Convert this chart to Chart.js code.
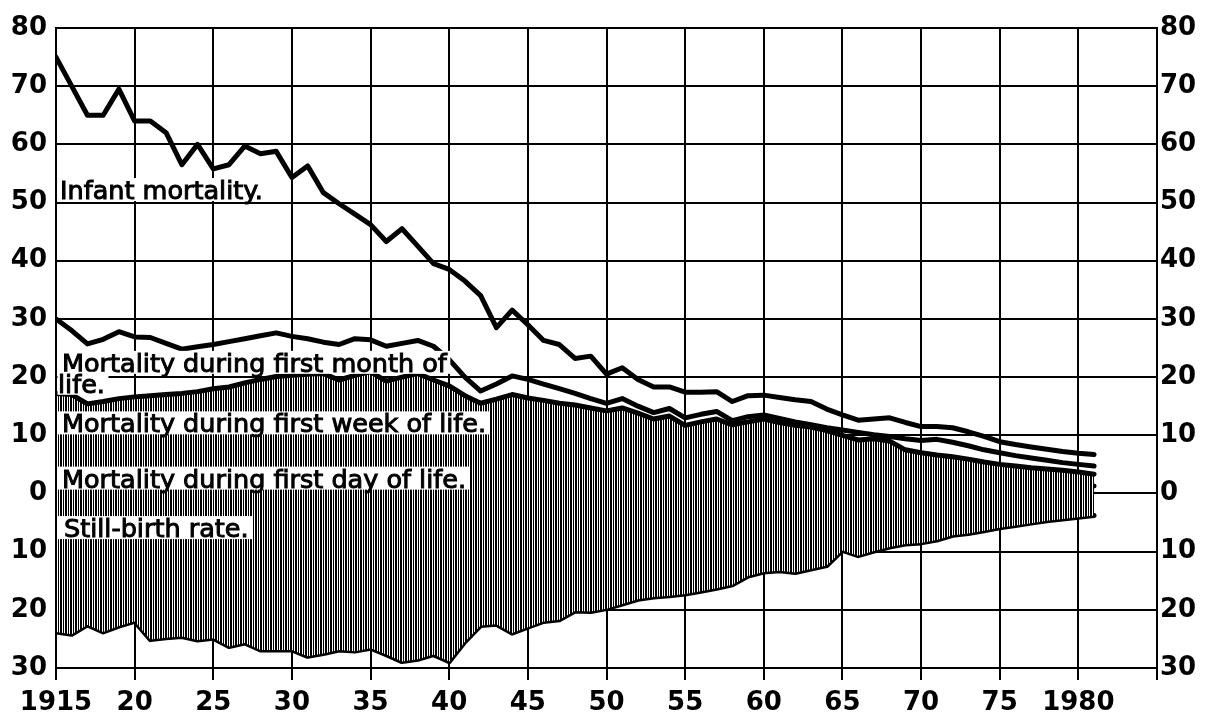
<!DOCTYPE html>
<html>
<head>
<meta charset="utf-8">
<script src="https://cdn.jsdelivr.net/npm/chart.js@4.4.0/dist/chart.umd.min.js"></script>
<style>
  html, body { margin: 0; padding: 0; background: #fff; }
  #wrap { width: 1205px; height: 719px; }
</style>
</head>
<body>
<div id="wrap"><canvas id="myChart" width="1205" height="719"></canvas></div>
<script>
// years 1915 - 1981, one point per year
var years = [
  1915, 1916, 1917, 1918, 1919, 1920, 1921, 1922, 1923, 1924,
  1925, 1926, 1927, 1928, 1929, 1930, 1931, 1932, 1933, 1934,
  1935, 1936, 1937, 1938, 1939, 1940, 1941, 1942, 1943, 1944,
  1945, 1946, 1947, 1948, 1949, 1950, 1951, 1952, 1953, 1954,
  1955, 1956, 1957, 1958, 1959, 1960, 1961, 1962, 1963, 1964,
  1965, 1966, 1967, 1968, 1969, 1970, 1971, 1972, 1973, 1974,
  1975, 1976, 1977, 1978, 1979, 1980, 1981
];

var infantMortality = [
  75, 70, 65, 65, 69.5, 64, 64, 62, 56.5, 60,
  55.8, 56.5, 59.7, 58.4, 58.8, 54.3, 56.3, 51.7, 49.8, 48,
  46.2, 43.3, 45.5, 42.5, 39.5, 38.5, 36.5, 34, 28.5, 31.5,
  29, 26.3, 25.6, 23.2, 23.6, 20.5, 21.6, 19.6, 18.3, 18.3,
  17.4, 17.4, 17.5, 15.8, 16.8, 16.9, 16.5, 16.1, 15.8, 14.5,
  13.5, 12.6, 12.8, 13.0, 12.2, 11.5, 11.5, 11.3, 10.6, 9.8,
  8.9, 8.4, 8.0, 7.6, 7.2, 6.9, 6.7
];

var firstMonth = [
  30, 28, 25.7, 26.5, 27.8, 26.9, 26.8, 25.8, 24.8, 25.2,
  25.6, 26.1, 26.6, 27.1, 27.6, 27.0, 26.6, 26.0, 25.6, 26.6,
  26.4, 25.3, 25.8, 26.3, 25.3, 23.0, 20.0, 17.6, 18.8, 20.2,
  19.6, 18.8, 18.0, 17.2, 16.3, 15.5, 16.3, 15.0, 13.9, 14.6,
  13.0, 13.6, 14.1, 12.5, 13.2, 13.5, 12.9, 12.3, 11.8, 11.3,
  10.9, 10.5, 10.1, 9.8, 9.4, 9.1, 9.3, 8.8, 8.2, 7.5,
  7.0, 6.5, 6.1, 5.7, 5.3, 5.0, 4.7
];

var firstWeek = [
  17.2, 17.0, 15.4, 15.8, 16.3, 16.6, 16.8, 17.0, 17.2, 17.5,
  18.0, 18.3, 19.0, 19.6, 20.1, 20.3, 20.5, 20.6, 19.5, 20.3,
  20.9, 19.3, 20.0, 20.6, 19.5, 18.5, 16.8, 15.5, 16.2, 17.0,
  16.4, 16.0, 15.5, 15.2, 14.7, 14.2, 14.7, 13.8, 12.8, 13.3,
  11.7, 12.3, 12.8, 11.8, 12.3, 12.8, 12.2, 11.7, 11.4, 10.8,
  10.0, 9.2, 9.4, 9.0, 7.5, 7.0, 6.6, 6.3, 5.9, 5.4,
  5.0, 4.7, 4.4, 4.2, 4.0, 3.7, 3.3
];

var firstDay = [
  7.5, 7.2, 6.2, 6.0, 6.2, 6.3, 6.3, 6.4, 6.5, 6.5,
  6.6, 6.8, 7.0, 7.2, 7.3, 7.4, 7.5, 7.5, 7.6, 7.7,
  7.5, 6.6, 7.0, 7.8, 7.2, 7.0, 6.8, 6.6, 6.6, 6.8,
  6.8, 6.6, 6.5, 6.4, 6.2, 6.1, 6.0, 5.9, 5.8, 5.7,
  5.6, 5.7, 5.3, 4.0, 5.2, 5.8, 5.3, 4.6, 3.9, 3.2,
  2.5, 3.3, 4.2, 3.8, 2.8, 2.6, 2.5, 2.4, 2.3, 2.1,
  2.0, 1.9, 1.7, 1.6, 1.5, 1.4, 1.3
];

// still-birth rate is plotted downwards from 0
var stillBirth = [
  -23.8, -24.2, -22.6, -23.8, -22.8, -22.0, -25.1, -24.8, -24.6, -25.2,
  -24.9, -26.3, -25.7, -26.9, -26.9, -26.9, -28.0, -27.5, -26.9, -27.1,
  -26.6, -27.7, -28.9, -28.5, -27.7, -28.9, -25.5, -22.7, -22.5, -24.0,
  -23.0, -22.0, -21.7, -20.2, -20.3, -19.8, -19.0, -18.2, -17.8, -17.6,
  -17.3, -16.8, -16.3, -15.7, -14.2, -13.5, -13.3, -13.6, -13.0, -12.4,
  -9.8, -10.7, -9.9, -9.2, -8.7, -8.5, -8.0, -7.2, -6.9, -6.4,
  -5.9, -5.5, -5.1, -4.7, -4.4, -4.1, -3.8
];

var xTickLabels = ['1915', '20', '25', '30', '35', '40', '45', '50', '55', '60', '65', '70', '75', '1980', ''];
var yTickLabels = ['30', '20', '10', '0', '10', '20', '30', '40', '50', '60', '70', '80'];

// text written inside the plot, anchored on the 1915 axis (value = text baseline)
var seriesLabels = [
  { text: 'Infant mortality.', value: 50.6, dx: 4 },
  { text: 'Mortality during first month of', value: 20.9, dx: 6 },
  { text: 'life.', value: 17.3, dx: 2 },
  { text: 'Mortality during first week of life.', value: 10.5, dx: 6 },
  { text: 'Mortality during first day of life.', value: 1.0, dx: 6 },
  { text: 'Still-birth rate.', value: -7.5, dx: 8 }
];

var FONT = 'DejaVu Sans';

function points(values) {
  return years.map(function(yr, i) { return { x: yr, y: values[i] }; });
}

var canvas = document.getElementById('myChart');
var ctx = canvas.getContext('2d');

// vertical hatching for the area between first week and still-birth
var tile = document.createElement('canvas');
tile.width = 5; tile.height = 8;
var tctx = tile.getContext('2d');
tctx.fillStyle = '#fff';
tctx.fillRect(0, 0, 5, 8);
tctx.fillStyle = '#000';
tctx.fillRect(0, 0, 2, 8);
tctx.fillRect(3, 0, 1, 8);
var hatch = ctx.createPattern(tile, 'repeat');

function lineSet(label, values, extra) {
  var ds = {
    label: label,
    data: points(values),
    borderColor: '#000',
    borderWidth: 5,
    pointRadius: 0,
    tension: 0,
    fill: false,
    borderCapStyle: 'round',
    borderJoinStyle: 'round'
  };
  for (var k in extra) ds[k] = extra[k];
  return ds;
}

var labelPlugin = {
  id: 'seriesLabels',
  afterDraw: function(chart) {
    var c = chart.ctx, xs = chart.scales.x, ys = chart.scales.y;
    c.save();
    c.font = '25.5px "' + FONT + '"';
    c.textBaseline = 'alphabetic';
    c.lineWidth = 1;
    c.strokeStyle = '#000';
    seriesLabels.forEach(function(l) {
      var x0 = xs.getPixelForValue(1915);
      var y = ys.getPixelForValue(l.value);
      var w = c.measureText(l.text).width;
      c.fillStyle = '#fff';
      c.fillRect(x0 + 1.5, y - 21, l.dx + w + 2, 23);
      c.fillStyle = '#000';
      c.fillText(l.text, x0 + l.dx, y);
      c.strokeText(l.text, x0 + l.dx, y);
    });
    c.restore();
  }
};

var tickFont = { family: FONT, size: 26, weight: 'bold' };

var chart = new Chart(ctx, {
  type: 'line',
  data: {
    datasets: [
      lineSet('Infant mortality', infantMortality),
      lineSet('Mortality during first month of life', firstMonth),
      lineSet('Mortality during first week of life', firstWeek, { fill: 4, backgroundColor: hatch }),
      lineSet('Mortality during first day of life', firstDay),
      lineSet('Still-birth rate', stillBirth)
    ]
  },
  options: {
    responsive: false,
    animation: false,
    layout: { padding: { top: 28, left: 0, right: 0, bottom: 0 } },
    plugins: {
      legend: { display: false },
      tooltip: { enabled: false }
    },
    scales: {
      x: {
        type: 'linear',
        min: 1915,
        max: 1985,
        z: 1,
        afterFit: function(s) { s.height = 51; },
        ticks: {
          stepSize: 5,
          autoSkip: false,
          maxRotation: 0,
          color: '#000',
          font: tickFont,
          padding: 8,
          callback: function(v, i) { return xTickLabels[i]; }
        },
        grid: { color: '#000', lineWidth: 2, tickLength: 12 },
        border: { color: '#000', width: 2 }
      },
      y: {
        position: 'left',
        min: -30,
        max: 80,
        z: 1,
        afterFit: function(s) { s.width = 56; },
        ticks: {
          stepSize: 10,
          color: '#000',
          font: tickFont,
          padding: 9,
          callback: function(v, i) { return yTickLabels[i]; }
        },
        grid: { color: '#000', lineWidth: 2, drawTicks: false },
        border: { color: '#000', width: 2 }
      },
      y2: {
        position: 'right',
        min: -30,
        max: 80,
        z: 1,
        afterFit: function(s) { s.width = 48; },
        ticks: {
          stepSize: 10,
          color: '#000',
          font: tickFont,
          padding: 3,
          callback: function(v, i) { return yTickLabels[i]; }
        },
        grid: { drawOnChartArea: false, drawTicks: false },
        border: { color: '#000', width: 2 }
      }
    }
  },
  plugins: [labelPlugin]
});
</script>
</body>
</html>
